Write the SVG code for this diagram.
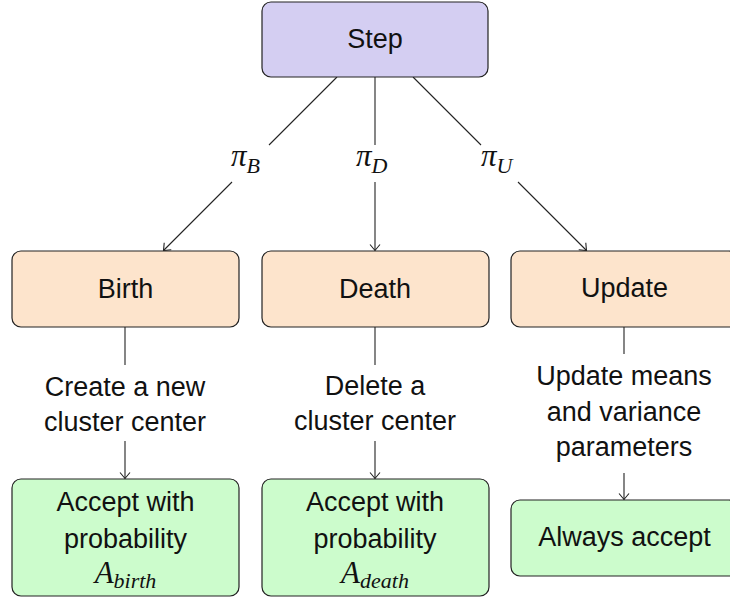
<svg xmlns="http://www.w3.org/2000/svg" width="730" height="601" viewBox="0 0 730 601">
<defs>
<style>
.box{stroke:#222;stroke-width:1.2}
.step{fill:#d4cef2}
.act{fill:#fde4cc}
.acc{fill:#ccfccc}
.t{font-family:"Liberation Sans",Arial,sans-serif;font-size:27px;fill:#111;text-anchor:middle}
.m{font-family:"Liberation Serif","DejaVu Serif",serif;font-style:italic;fill:#111}
.c{stroke:#222;stroke-width:1.1;fill:none}
</style>
<marker id="arr" viewBox="-8 -6 10 12" refX="0" refY="0" markerWidth="10" markerHeight="12" orient="auto" markerUnits="userSpaceOnUse">
<path d="M-6,-5 Q-1.5,-1.2 0,0 Q-1.5,1.2 -6,5" fill="none" stroke="#222" stroke-width="1.1"/>
</marker>
</defs>
<rect width="730" height="601" fill="#fff"/>
<g id="connectors">
<line class="c" x1="337" y1="77" x2="269" y2="145"/>
<line class="c" x1="232" y1="182" x2="163.5" y2="250.5" marker-end="url(#arr)"/>
<line class="c" x1="375" y1="77" x2="375" y2="145"/>
<line class="c" x1="375" y1="182" x2="375" y2="250.5" marker-end="url(#arr)"/>
<line class="c" x1="413" y1="77" x2="481" y2="145"/>
<line class="c" x1="518" y1="182" x2="586.5" y2="250.5" marker-end="url(#arr)"/>
<line class="c" x1="125" y1="327" x2="125" y2="365"/>
<line class="c" x1="125" y1="441" x2="125" y2="478.5" marker-end="url(#arr)"/>
<line class="c" x1="375" y1="327" x2="375" y2="365"/>
<line class="c" x1="375" y1="441" x2="375" y2="478.5" marker-end="url(#arr)"/>
<line class="c" x1="624" y1="327" x2="624" y2="354"/>
<line class="c" x1="624" y1="473" x2="624" y2="499.5" marker-end="url(#arr)"/>
<text class="m" x="231" y="166" font-size="31">π<tspan font-size="22" dy="7">B</tspan></text>
<text class="m" x="356" y="166" font-size="31">π<tspan font-size="22" dy="7">D</tspan></text>
<text class="m" x="481" y="166" font-size="31">π<tspan font-size="22" dy="7">U</tspan></text>
<text class="t" x="125" y="396">Create a new</text>
<text class="t" x="125" y="431">cluster center</text>
<text class="t" x="375" y="395">Delete a</text>
<text class="t" x="375" y="430">cluster center</text>
<text class="t" x="624" y="385">Update means</text>
<text class="t" x="624" y="421">and variance</text>
<text class="t" x="624" y="456">parameters</text>
</g>
<g id="step">
<rect class="box step" x="262" y="2" width="226" height="75" rx="9"/>
<text class="t" x="375" y="48">Step</text>
</g>
<g id="birth">
<rect class="box act" x="12" y="251" width="227" height="76" rx="9"/>
<text class="t" x="125.5" y="298">Birth</text>
</g>
<g id="death">
<rect class="box act" x="262" y="251" width="227" height="76" rx="9"/>
<text class="t" x="375" y="298">Death</text>
</g>
<g id="update">
<rect class="box act" x="511" y="251" width="227" height="76" rx="9"/>
<text class="t" x="624.5" y="297">Update</text>
</g>
<g id="accept-birth">
<rect class="box acc" x="12" y="479" width="227" height="117" rx="9"/>
<text class="t" x="125.5" y="511">Accept with</text>
<text class="t" x="125.5" y="548">probability</text>
<text class="m" x="125.5" y="583" font-size="31" text-anchor="middle">A<tspan font-size="22" dy="5">birth</tspan></text>
</g>
<g id="accept-death">
<rect class="box acc" x="262" y="479" width="227" height="117" rx="9"/>
<text class="t" x="375" y="511">Accept with</text>
<text class="t" x="375" y="548">probability</text>
<text class="m" x="375" y="583" font-size="31" text-anchor="middle">A<tspan font-size="22" dy="5">death</tspan></text>
</g>
<g id="always-accept">
<rect class="box acc" x="511" y="500" width="227" height="76" rx="9"/>
<text class="t" x="624.5" y="546">Always accept</text>
</g>
</svg>
